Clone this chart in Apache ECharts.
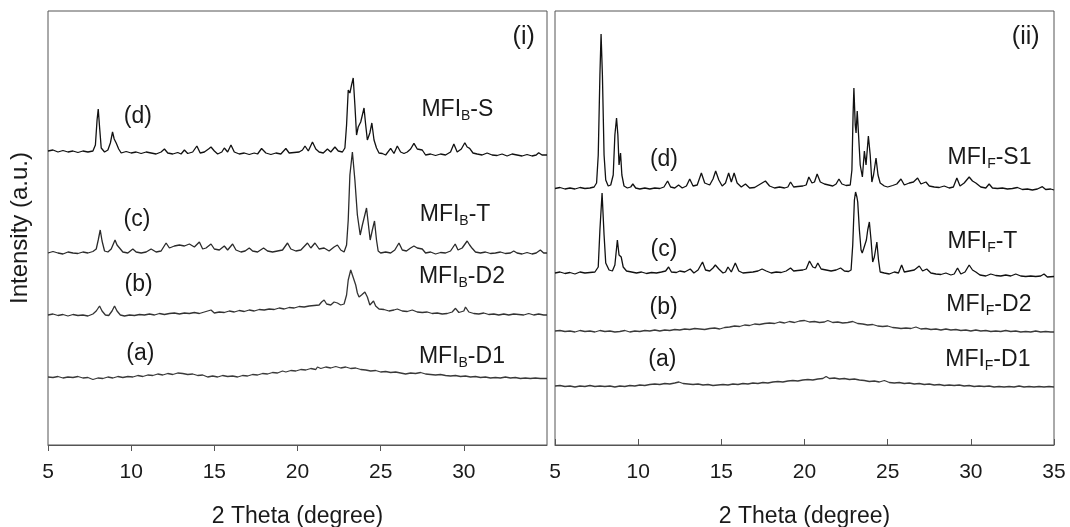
<!DOCTYPE html>
<html>
<head>
<meta charset="utf-8">
<script src="https://cdn.jsdelivr.net/npm/echarts@6/dist/echarts.min.js"></script>
<style>
html,body{margin:0;padding:0;background:#fff;}
#chart{width:1070px;height:527px;}
</style>
</head>
<body>
<div id="chart"></div>
<script>
// ---------- DATA (2θ in degrees, intensity in arbitrary units with stacking offsets) ----------
const xTicks = [5, 10, 15, 20, 25, 30, 35];

// Panel (i): MFI_B samples
const B_D1 = [[5.0,68],[5.3,67.5],[5.6,68.5],[5.9,67],[6.2,68],[6.5,67.5],[6.8,68.5],[7.1,67],[7.4,67.5],[7.7,65.5],[8.0,67],[8.3,66.5],[8.6,68],[8.9,67],[9.2,68.5],[9.5,67.5],[9.8,68.5],[10.1,68],[10.4,69.5],[10.7,68.5],[11.0,70],[11.3,69.5],[11.6,71],[11.9,70],[12.2,71.5],[12.5,70.5],[12.8,72],[13.1,71.5],[13.4,70.5],[13.7,71],[14.0,69.5],[14.3,70],[14.6,68],[14.9,69],[15.2,68],[15.5,69.5],[15.8,68.5],[16.1,69],[16.4,68],[16.7,69.5],[17.0,69],[17.3,70.5],[17.6,70],[17.9,71.5],[18.2,71],[18.5,72.5],[18.8,72],[19.1,74],[19.3,73],[19.6,74.5],[19.9,74],[20.2,75.5],[20.5,75],[20.8,76.5],[21.1,75.5],[21.2,78],[21.4,76.5],[21.7,78],[22.0,77],[22.3,78.5],[22.6,77],[22.9,78],[23.2,76.5],[23.5,77],[23.8,75.5],[24.1,75],[24.4,74],[24.7,74.5],[25.0,73],[25.3,73.5],[25.6,72.5],[25.9,73],[26.2,72],[26.5,71],[26.8,72],[27.1,71.5],[27.4,72.5],[27.7,71],[28.0,70.5],[28.3,70],[28.6,70.5],[28.9,69.5],[29.2,69],[29.5,69.5],[29.8,68.5],[30.1,69],[30.4,68],[30.7,68.5],[31.0,67.5],[31.3,68],[31.6,67],[31.9,67.5],[32.2,67],[32.5,68],[32.8,67],[33.1,67.5],[33.4,66.5],[33.7,67],[34.0,66.5],[34.3,67],[34.6,66.5],[35.0,66.5]];

const B_D2 = [[5.0,130],[5.3,131],[5.6,129.5],[5.9,130.5],[6.2,129],[6.5,130.5],[6.8,129.5],[7.1,130],[7.4,129],[7.7,131],[7.9,134],[8.1,139],[8.25,134],[8.45,130],[8.65,129.5],[8.85,134],[9.0,139],[9.15,134],[9.35,130],[9.6,129],[9.9,130],[10.2,129.5],[10.5,130.5],[10.8,130],[11.1,131],[11.4,130],[11.7,131.5],[12.0,130.5],[12.3,131.5],[12.6,132],[12.9,131],[13.2,132],[13.5,131.5],[13.8,132.5],[14.1,131.5],[14.4,133],[14.8,135],[15.0,132],[15.3,133],[15.6,132.5],[15.9,134],[16.2,133],[16.5,134.5],[16.8,133.5],[17.1,135],[17.4,134],[17.7,135.5],[18.0,135],[18.3,136],[18.6,135.5],[18.9,137],[19.2,136],[19.5,137.5],[19.8,137],[20.1,138.5],[20.4,138],[20.7,139],[21.0,139.5],[21.3,140],[21.45,143],[21.6,145],[21.75,141],[22.0,140],[22.2,143],[22.4,142],[22.6,140],[22.8,141],[22.95,150],[23.05,165],[23.2,175],[23.3,170],[23.36,167],[23.5,160],[23.6,152],[23.7,148],[23.85,150],[24.05,153],[24.2,148],[24.35,140],[24.57,144],[24.7,139],[24.9,136],[25.2,135.5],[25.5,134],[25.8,135],[26.0,136],[26.3,134],[26.6,133.5],[26.9,135],[27.2,133],[27.5,132.5],[27.8,133],[28.1,131.5],[28.4,132],[28.7,131],[29.0,131.5],[29.3,133],[29.5,136.7],[29.7,132.5],[30.0,134],[30.1,138],[30.3,133],[30.6,131.5],[30.9,131],[31.2,132],[31.5,130.5],[31.8,131],[32.1,130],[32.4,131],[32.7,130],[33.0,131],[33.3,130.5],[33.6,130],[33.9,131.5],[34.2,130],[34.5,131],[34.8,130],[35.0,130]];

const B_T = [[5.0,192],[5.3,193.5],[5.6,192],[5.9,191],[6.2,193],[6.5,192],[6.8,191.5],[7.1,193],[7.4,192],[7.7,193.5],[7.9,196],[8.02,205],[8.14,215],[8.25,204],[8.4,194],[8.6,193],[8.8,196],[9.03,205],[9.15,200],[9.3,197],[9.5,193],[9.8,192],[10.1,196],[10.3,193],[10.6,192],[10.9,193],[11.2,196],[11.5,193],[11.8,194],[12.1,202],[12.3,197],[12.6,199],[12.9,200],[13.2,199],[13.5,201],[13.8,198],[14.1,203],[14.3,196],[14.5,197],[14.8,201],[15.0,196],[15.3,195],[15.6,199],[15.8,195],[16.1,201],[16.3,195],[16.6,193],[16.85,194],[17.1,197],[17.3,194],[17.6,193],[17.96,197],[18.2,194],[18.5,193],[18.8,194],[19.1,195],[19.4,202],[19.6,196],[19.9,194],[20.2,195],[20.6,202],[20.8,197],[21.05,202],[21.3,196],[21.6,197],[21.9,194],[22.2,198],[22.4,200],[22.6,195],[22.8,193],[22.95,200],[23.05,225],[23.15,270],[23.3,293],[23.45,265],[23.6,230],[23.77,210],[23.9,220],[24.15,237],[24.3,215],[24.37,205],[24.5,215],[24.63,224],[24.75,205],[24.85,194],[25.0,192],[25.3,193],[25.6,192],[25.85,195],[26.1,202],[26.3,195],[26.55,194],[26.8,197],[27.0,199],[27.2,197],[27.5,196],[27.7,192],[28.0,193],[28.3,191],[28.6,192.5],[28.9,192],[29.2,194],[29.48,201],[29.65,195],[29.9,197],[30.2,204],[30.35,200],[30.5,196.7],[30.7,193],[31.0,192],[31.3,193],[31.6,191.5],[31.9,192],[32.2,193],[32.5,191.5],[32.8,192],[33.0,194],[33.2,192],[33.5,191],[33.8,192.5],[34.1,191],[34.35,192],[34.6,195],[34.8,192],[35.0,192]];

const B_S = [[5.0,294],[5.3,295],[5.6,293],[5.9,294.5],[6.2,293],[6.5,294],[6.8,292.5],[7.1,294],[7.4,293],[7.7,294],[7.85,300],[7.95,325],[8.02,336],[8.1,318],[8.2,297],[8.4,293],[8.6,295],[8.75,302],[8.88,313],[8.98,306],[9.1,302],[9.25,296],[9.4,292],[9.7,293.5],[10.0,292],[10.3,293],[10.6,291.5],[10.9,293],[11.2,292],[11.5,291],[11.8,293],[12.0,296],[12.2,292],[12.5,291],[12.8,292.5],[13.0,291],[13.2,295],[13.4,291.5],[13.7,293],[13.95,299],[14.15,292],[14.4,293],[14.65,296],[14.8,298],[15.0,294],[15.2,291],[15.45,293],[15.6,297],[15.8,293],[16.0,300],[16.2,293],[16.5,291],[16.8,292],[17.1,290.5],[17.4,292],[17.6,291],[17.84,296.5],[18.1,292],[18.4,290.5],[18.7,292],[19.0,291],[19.3,296.5],[19.5,292],[19.8,292.5],[20.1,293],[20.3,295],[20.45,299],[20.65,294],[20.9,303],[21.1,296],[21.3,293],[21.55,292],[21.8,296],[22.0,293],[22.25,298],[22.45,294],[22.7,293],[22.85,297],[22.95,320],[23.05,355],[23.15,352],[23.25,360],[23.35,367],[23.45,340],[23.55,310],[23.65,318],[23.8,323],[24.0,337],[24.1,320],[24.2,305],[24.35,312],[24.47,322],[24.6,305],[24.75,297],[24.9,292],[25.1,291.5],[25.3,290],[25.6,296.7],[25.8,291.5],[26.0,299],[26.2,293],[26.4,291.5],[26.6,293],[26.8,296],[27.0,301.7],[27.2,296],[27.5,295],[27.7,290],[28.0,291],[28.3,289.5],[28.6,291],[28.9,290],[29.2,293],[29.4,301],[29.6,293],[29.85,296],[30.06,302.3],[30.2,298],[30.35,296.7],[30.55,292],[30.8,291],[31.1,290],[31.4,292],[31.7,290],[32.0,289.5],[32.3,291],[32.6,289],[32.9,291],[33.2,290],[33.5,289],[33.8,290.5],[34.1,289],[34.35,290],[34.5,292.3],[34.7,290],[35.0,290]];

// Panel (ii): MFI_F samples
const F_D1 = [[5.0,59],[5.3,59.5],[5.6,58.5],[5.9,59],[6.2,58],[6.5,59],[6.8,58.5],[7.1,59.5],[7.4,58.5],[7.7,59],[8.0,58.5],[8.3,59],[8.6,58],[8.9,59],[9.2,58.5],[9.5,59.5],[9.8,59],[10.1,60],[10.4,59.5],[10.7,60.5],[11.0,61],[11.3,60.5],[11.6,61.5],[11.9,61],[12.2,62],[12.45,63],[12.7,61.5],[13.0,61],[13.3,60.5],[13.6,61],[13.9,60],[14.2,60.5],[14.5,59.5],[14.8,60],[15.1,60.5],[15.4,60],[15.7,61],[16.0,60.5],[16.3,61.5],[16.6,61],[16.9,62],[17.2,61.5],[17.5,62.5],[17.8,62],[18.1,63],[18.4,63.5],[18.7,63],[19.0,64],[19.3,64.5],[19.6,64],[19.9,65],[20.2,65.5],[20.5,65],[20.8,66],[21.1,66.5],[21.3,68.5],[21.5,66.5],[21.8,67],[22.1,66],[22.4,66.5],[22.7,65.5],[23.0,66],[23.3,65],[23.6,64.5],[23.9,63.5],[24.2,64],[24.5,63],[24.8,64.5],[25.1,62.5],[25.4,62],[25.7,62.5],[26.0,61.5],[26.3,62],[26.6,61],[26.9,61.5],[27.2,60.5],[27.5,61],[27.8,60],[28.1,60.5],[28.4,59.5],[28.7,60],[29.0,59.5],[29.3,60],[29.6,59],[29.9,59.5],[30.2,58.5],[30.5,59],[30.8,58.5],[31.1,59],[31.4,58],[31.7,58.5],[32.0,58],[32.3,58.5],[32.6,58],[32.9,59],[33.2,58],[33.5,58.5],[33.8,58],[34.1,58.5],[34.4,58],[34.7,58.5],[35.0,58]];

const F_D2 = [[5.0,114],[5.3,114.5],[5.6,113.5],[5.9,114],[6.2,113],[6.5,114.5],[6.8,113.5],[7.1,114],[7.4,113],[7.7,114.5],[8.0,113.5],[8.3,114],[8.6,113],[8.9,113.5],[9.2,114.5],[9.5,113],[9.8,114],[10.1,113.5],[10.4,114.5],[10.7,114],[11.0,115],[11.3,114],[11.6,115],[11.9,114.5],[12.2,115.5],[12.5,115],[12.8,116],[13.1,115.5],[13.4,116.5],[13.7,116],[14.0,115.5],[14.3,116.5],[14.6,117],[14.9,116],[15.2,117.5],[15.5,118],[15.8,119],[16.1,118.5],[16.4,120],[16.7,119.5],[17.0,121],[17.3,120.5],[17.6,121.5],[17.9,122],[18.2,121.5],[18.5,123],[18.8,122],[19.1,123.5],[19.4,122.5],[19.7,124],[20.0,124.5],[20.3,123],[20.6,123.5],[20.9,122.5],[21.2,123],[21.4,124.5],[21.7,122.5],[22.0,123],[22.3,122],[22.6,122.5],[22.9,123.5],[23.2,121.5],[23.5,121],[23.8,120],[24.1,120.5],[24.4,119],[24.7,118.5],[25.0,119],[25.3,117.5],[25.6,117],[25.8,116.5],[26.1,117],[26.4,116.5],[26.7,118],[27.0,116],[27.3,116.5],[27.6,115.5],[27.9,116],[28.2,115],[28.5,116],[28.8,115],[29.1,115.5],[29.4,114.5],[29.7,115],[30.0,114],[30.3,115],[30.6,114],[30.9,114.5],[31.2,113.5],[31.5,114],[31.8,113.5],[32.1,114.5],[32.4,113.5],[32.7,114],[33.0,113],[33.3,113.5],[33.6,113],[33.9,114],[34.2,113],[34.5,113.5],[34.8,113],[35.0,113]];

const F_T = [[5.0,172],[5.3,173],[5.6,171.5],[5.9,172.5],[6.2,171],[6.5,173],[6.8,172],[7.1,172.5],[7.4,173],[7.6,178],[7.7,215],[7.83,252],[7.95,210],[8.05,182],[8.25,175],[8.45,174],[8.6,180],[8.75,205],[8.85,190],[8.98,188],[9.1,178],[9.3,174],[9.6,173],[9.9,172],[10.2,173],[10.5,171.5],[10.8,172.5],[11.1,172],[11.4,173],[11.65,174],[11.83,178],[12.0,173],[12.3,172.5],[12.5,174],[12.8,173],[13.13,176],[13.35,172],[13.6,175],[13.87,183],[14.05,175],[14.3,174],[14.5,177],[14.64,180],[14.85,176],[15.1,172],[15.25,173],[15.4,178],[15.6,173],[15.84,182],[16.05,174],[16.3,172],[16.6,172.5],[16.9,173],[17.2,174],[17.45,176],[17.7,174],[18.0,172],[18.3,173],[18.6,172.5],[18.9,174],[19.16,177],[19.35,174],[19.6,174.5],[19.9,175],[20.1,176],[20.3,184],[20.5,178],[20.65,177],[20.8,182],[21.0,176],[21.3,175],[21.6,174],[21.9,175],[22.17,177],[22.4,174],[22.65,173.5],[22.8,175],[22.9,200],[23.0,245],[23.07,253],[23.15,248],[23.2,243],[23.3,215],[23.4,195],[23.47,192],[23.55,196],[23.63,198],[23.72,205],[23.8,215],[23.9,223],[24.0,205],[24.1,183],[24.2,188],[24.35,203],[24.45,185],[24.55,173],[24.8,172],[25.1,171],[25.4,173],[25.65,172],[25.84,180],[26.0,173],[26.3,174],[26.6,175],[26.9,179],[27.1,174],[27.35,176],[27.6,172],[27.9,171],[28.2,170.5],[28.5,172],[28.8,170],[29.0,171],[29.2,177],[29.4,171],[29.65,173],[29.9,180],[30.1,175],[30.3,173],[30.55,170],[30.9,169],[31.2,171],[31.5,169.5],[31.8,169],[32.1,170],[32.4,169],[32.7,171],[33.0,169],[33.3,168.5],[33.6,169],[33.9,168.5],[34.2,169],[34.4,171],[34.6,168],[35.0,168.5]];

const F_S1 = [[5.0,256.5],[5.3,257.5],[5.6,256],[5.9,257],[6.2,256],[6.5,257.5],[6.8,256.5],[7.1,257],[7.35,258],[7.5,262],[7.6,290],[7.7,370],[7.77,411],[7.85,370],[7.95,290],[8.05,265],[8.2,259],[8.35,260],[8.5,270],[8.6,310],[8.7,327],[8.78,310],[8.85,280],[8.94,292],[9.02,270],[9.15,259],[9.35,257],[9.55,258],[9.68,261],[9.85,257],[10.1,256],[10.4,257],[10.7,256],[11.0,257],[11.3,256.5],[11.55,258],[11.77,264],[11.95,258],[12.2,257],[12.43,260],[12.65,257],[12.9,259],[13.1,266],[13.3,259],[13.55,260],[13.8,272],[14.0,262],[14.3,260],[14.5,266],[14.66,274],[14.85,265],[15.05,259],[15.25,262],[15.44,272],[15.6,263],[15.77,272],[15.95,262],[16.2,258],[16.45,261],[16.7,257],[17.0,257.5],[17.25,260],[17.45,262],[17.65,264],[17.9,259],[18.2,257],[18.5,258],[18.8,257],[19.0,258],[19.16,263],[19.35,258],[19.6,258.5],[19.9,259],[20.1,260],[20.26,268],[20.45,262],[20.6,263],[20.76,271],[20.95,263],[21.2,261],[21.45,260],[21.7,259],[21.9,261],[22.07,266],[22.25,261],[22.5,259.5],[22.75,260],[22.85,275],[22.92,330],[22.97,357],[23.05,320],[23.1,312],[23.17,334],[23.25,310],[23.35,280],[23.48,268],[23.6,294],[23.7,280],[23.84,309],[23.95,290],[24.05,263],[24.15,270],[24.3,287],[24.42,270],[24.55,262],[24.8,259],[25.0,258],[25.3,259.5],[25.55,261],[25.8,266],[26.0,260],[26.3,262],[26.55,263],[26.8,267],[27.0,261],[27.3,263],[27.5,259],[27.8,258],[28.1,257.5],[28.4,259],[28.7,257],[28.95,258],[29.16,267],[29.35,259],[29.6,262],[29.9,268],[30.1,264],[30.3,262],[30.6,258],[30.9,257],[31.1,261],[31.3,257],[31.6,256.5],[31.9,257],[32.2,256],[32.5,256.5],[32.8,257.5],[33.1,255.5],[33.4,256],[33.7,255],[34.0,256],[34.3,258.3],[34.5,255.5],[34.8,256],[35.0,255]];

// Annotation labels: [panel, 2θ, intensity, text, fontSize]
const tagLabels = [
  [0, 10.4, 328, '(d)', 23], [0, 10.35, 225, '(c)', 23], [0, 10.45, 160, '(b)', 23], [0, 10.55, 91, '(a)', 23],
  [1, 11.55, 285, '(d)', 23], [1, 11.55, 195, '(c)', 23], [1, 11.53, 137, '(b)', 23], [1, 11.45, 85, '(a)', 23],
  [0, 33.6, 408, '(i)', 25], [1, 33.3, 408, '(ii)', 25]
];
const sampleLabels = [
  [0, 27.45, 335, 'MFI', 'B', '-S'], [0, 27.35, 230, 'MFI', 'B', '-T'], [0, 27.3, 168, 'MFI', 'B', '-D2'], [0, 27.3, 88, 'MFI', 'B', '-D1'],
  [1, 28.6, 287, 'MFI', 'F', '-S1'], [1, 28.6, 203, 'MFI', 'F', '-T'], [1, 28.52, 140, 'MFI', 'F', '-D2'], [1, 28.46, 85, 'MFI', 'F', '-D1']
];
const xName = '2 Theta (degree)';
const yName = 'Intensity (a.u.)';

// ---------- CHART ----------
const chart = echarts.init(document.getElementById('chart'), null, {renderer: 'canvas'});
const FONT = '"Liberation Sans", Arial, sans-serif';
const TXT = '#1a1a1a';
const FRAME = '#555';

function xAxisCfg(idx, inside) {
  return {
    type: 'value', gridIndex: idx, min: xTicks[0], max: xTicks[xTicks.length - 1], interval: 5,
    name: xName, nameLocation: 'middle', nameGap: 60,
    nameTextStyle: {fontFamily: FONT, fontSize: 23, color: TXT},
    axisLine: {show: true, lineStyle: {color: FRAME, width: 1}},
    axisTick: {show: true, inside: inside, length: 6, lineStyle: {color: FRAME}},
    axisLabel: {fontFamily: FONT, fontSize: 21, color: TXT, margin: 17, showMaxLabel: idx === 1, showMinLabel: true},
    splitLine: {show: false}
  };
}
function yAxisCfg(idx) {
  return {
    type: 'value', gridIndex: idx, min: 0, max: 434,
    axisLine: {show: false}, axisTick: {show: false}, axisLabel: {show: false}, splitLine: {show: false}
  };
}
function lineSeries(idx, data, color) {
  return {
    type: 'line', xAxisIndex: idx, yAxisIndex: idx, data: data,
    showSymbol: false, symbol: 'none', smooth: false, silent: true, animation: false,
    lineStyle: {color: color, width: 1.3}
  };
}

chart.setOption({
  animation: false,
  grid: [
    {left: 48, right: 523, top: 11, bottom: 82, outerBoundsMode: 'none', containLabel: false,
     show: true, borderColor: FRAME, borderWidth: 1, backgroundColor: 'transparent'},
    {left: 555, right: 16, top: 11, bottom: 82, outerBoundsMode: 'none', containLabel: false,
     show: true, borderColor: FRAME, borderWidth: 1, backgroundColor: 'transparent'}
  ],
  xAxis: [xAxisCfg(0, false), xAxisCfg(1, true)],
  yAxis: [yAxisCfg(0), yAxisCfg(1)],
  series: [
    lineSeries(0, B_D1, '#3a3a3a'), lineSeries(0, B_D2, '#333'), lineSeries(0, B_T, '#2a2a2a'), lineSeries(0, B_S, '#111'),
    lineSeries(1, F_D1, '#3a3a3a'), lineSeries(1, F_D2, '#3a3a3a'), lineSeries(1, F_T, '#111'), lineSeries(1, F_S1, '#111')
  ]
});

// Place annotation text by converting data coordinates to pixels
const graphics = [];
tagLabels.forEach(function (t) {
  const p = chart.convertToPixel({xAxisIndex: t[0], yAxisIndex: t[0]}, [t[1], t[2]]);
  graphics.push({type: 'text', x: p[0], y: p[1], silent: true,
    style: {text: t[3], fontFamily: FONT, fontSize: t[4], fill: TXT, align: 'center', verticalAlign: 'middle'}});
});
sampleLabels.forEach(function (t) {
  const p = chart.convertToPixel({xAxisIndex: t[0], yAxisIndex: t[0]}, [t[1], t[2]]);
  graphics.push({type: 'text', x: p[0], y: p[1], silent: true,
    style: {
      text: '{n|' + t[3] + '}{s|' + t[4] + '}{n|' + t[5] + '}',
      align: 'left', verticalAlign: 'middle',
      rich: {
        n: {fontFamily: FONT, fontSize: 23, fill: TXT, lineHeight: 26},
        s: {fontFamily: FONT, fontSize: 14, fill: TXT, lineHeight: 26, verticalAlign: 'bottom', padding: [11, 0, 0, 0]}
      }
    }});
});
graphics.push({type: 'text', x: 20, y: 228, rotation: Math.PI / 2, silent: true,
  style: {text: yName, fontFamily: FONT, fontSize: 24, fill: TXT, align: 'center', verticalAlign: 'middle'}});
chart.setOption({graphic: graphics});
</script>
</body>
</html>
